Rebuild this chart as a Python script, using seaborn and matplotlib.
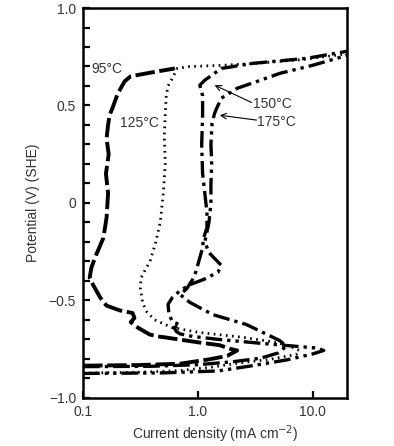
import matplotlib
matplotlib.use("Agg")
import matplotlib.pyplot as plt
import seaborn as sns
import pandas as pd
from matplotlib.ticker import FixedLocator, NullLocator, MultipleLocator

# ---- data (current density mA cm^-2, potential V SHE) ----
i_95 = [0.1, 0.3, 0.7, 1.27, 1.8, 2.2, 1.9, 1.55, 1.0, 0.52, 0.45, 0.38, 0.3, 0.26, 0.28, 0.27,
        0.21, 0.16, 0.141, 0.122, 0.114, 0.118, 0.13, 0.15, 0.16, 0.165, 0.158, 0.167, 0.16,
        0.165, 0.17, 0.18, 0.2, 0.23, 0.26, 0.4, 0.63]
E_95 = [-0.835, -0.832, -0.825, -0.802, -0.785, -0.757, -0.748, -0.73, -0.715, -0.69, -0.685,
        -0.675, -0.64, -0.612, -0.59, -0.565, -0.552, -0.527, -0.486, -0.42, -0.384, -0.332,
        -0.266, -0.18, -0.077, 0.05, 0.15, 0.25, 0.33, 0.4, 0.45, 0.486, 0.56, 0.624, 0.65,
        0.67, 0.69]

i_125 = [0.1, 0.3, 0.7, 1.27, 2.5, 4.2, 7.2, 7.7, 6.7, 4.9, 2.5, 1.04, 0.6, 0.42, 0.36, 0.33,
         0.315, 0.32, 0.35, 0.383, 0.43, 0.47, 0.5, 0.52, 0.51, 0.52, 0.53, 0.55, 0.6, 0.66,
         0.85, 1.5, 3.0, 8.0, 20.0]
E_125 = [-0.873, -0.869, -0.86, -0.844, -0.818, -0.803, -0.777, -0.757, -0.742, -0.716, -0.69,
         -0.665, -0.64, -0.6, -0.56, -0.512, -0.435, -0.384, -0.34, -0.3, -0.2, -0.1, 0.05,
         0.2, 0.35, 0.45, 0.55, 0.6, 0.64, 0.69, 0.70, 0.705, 0.715, 0.735, 0.765]

i_150 = [0.1, 0.4, 1.0, 2.0, 3.5, 5.0, 5.9, 5.16, 2.65, 1.35, 0.85, 0.7, 0.8, 0.93, 1.0, 1.1,
         1.12, 1.2, 1.2, 1.15, 1.1, 1.08, 1.1, 1.1, 1.04, 1.15, 1.32, 1.6, 3.0, 8.9, 20.0]
E_150 = [-0.84, -0.838, -0.83, -0.815, -0.797, -0.77, -0.735, -0.706, -0.624, -0.573, -0.51,
         -0.47, -0.44, -0.38, -0.317, -0.23, -0.18, -0.128, -0.05, 0.05, 0.15, 0.3, 0.45,
         0.55, 0.604, 0.63, 0.655, 0.69, 0.716, 0.742, 0.778]

i_175 = [0.1, 0.5, 1.5, 3.0, 6.0, 10.0, 12.5, 11.0, 7.0, 3.5, 1.5, 0.9, 0.7, 0.65, 0.62, 0.7,
         0.6, 0.56, 0.55, 0.6, 0.7, 0.85, 1.15, 1.5, 1.6, 1.4, 1.25, 1.15, 1.25, 1.3, 1.3,
         1.32, 1.3, 1.33, 1.4, 1.46, 1.6, 2.2, 3.3, 5.2, 10.0, 20.0]
E_175 = [-0.875, -0.872, -0.862, -0.835, -0.805, -0.775, -0.757, -0.745, -0.735, -0.72, -0.7,
         -0.685, -0.672, -0.66, -0.64, -0.625, -0.61, -0.57, -0.52, -0.485, -0.45, -0.42,
         -0.39, -0.355, -0.32, -0.285, -0.255, -0.2, -0.1, 0.0, 0.1, 0.2, 0.3, 0.41, 0.46,
         0.486, 0.537, 0.588, 0.624, 0.665, 0.706, 0.757]

x_ticks = [0.1, 1.0, 10.0]
x_tick_labels = ["0.1", "1.0", "10.0"]
y_ticks = [-1.0, -0.5, 0.0, 0.5, 1.0]
y_tick_labels = ["\u22121.0", "\u22120.5", "0", "0.5", "1.0"]

sns.set_style("ticks")
plt.rcParams["font.family"] = ["Liberation Sans", "DejaVu Sans"]
text_color = "#333333"

fig = plt.figure(figsize=(3.94, 4.46), dpi=100)
ax = fig.add_axes([0.211, 0.108, 0.670, 0.874])

curves = [
    (i_95, E_95, (0, (5, 1.2)), 2.8),
    (i_125, E_125, (0, (0.6, 1.6)), 2.0),
    (i_150, E_150, (0, (5, 1.5, 1, 1.5)), 2.4),
    (i_175, E_175, (0, (5, 1.5, 1, 1.5, 1, 1.5)), 2.4),
]
for xs, ys, ls, lw in curves:
    df = pd.DataFrame({"i": xs, "E": ys})
    sns.lineplot(data=df, x="i", y="E", sort=False, estimator=None, ax=ax,
                 color="black", linestyle=ls, linewidth=lw, legend=False)

ax.set_xscale("log")
ax.set_xlim(0.1, 20)
ax.set_ylim(-1.0, 1.0)
ax.xaxis.set_major_locator(FixedLocator(x_ticks))
ax.xaxis.set_minor_locator(NullLocator())
ax.set_xticklabels(x_tick_labels)
ax.yaxis.set_major_locator(FixedLocator(y_ticks))
ax.set_yticklabels(y_tick_labels)
ax.yaxis.set_minor_locator(MultipleLocator(0.1))
ax.tick_params(axis="both", which="both", direction="in", length=5, width=1.6,
               color="black", labelsize=10, labelcolor=text_color, pad=5)
ax.tick_params(axis="both", which="both", top=False, right=False)

for s in ax.spines.values():
    s.set_visible(True)
    s.set_linewidth(1.8)
    s.set_color("black")

ax.set_xlabel("Current density (mA cm$^{-2}$)", fontsize=10, color=text_color, labelpad=3)
ax.set_ylabel("Potential (V) (SHE)", fontsize=10, color=text_color, labelpad=6)

ax.text(0.118, 0.685, "95\u00b0C", fontsize=10, color=text_color, va="center", ha="left")
ax.text(0.21, 0.41, "125\u00b0C", fontsize=10, color=text_color, va="center", ha="left")
ax.text(3.05, 0.506, "150\u00b0C", fontsize=10, color=text_color, va="center", ha="left")
ax.text(3.3, 0.414, "175\u00b0C", fontsize=10, color=text_color, va="center", ha="left")

ax.annotate("", xy=(1.4, 0.604), xytext=(2.95, 0.515),
            arrowprops=dict(arrowstyle="->", color="black", lw=0.8, shrinkA=0, shrinkB=0))
ax.annotate("", xy=(1.55, 0.45), xytext=(3.25, 0.425),
            arrowprops=dict(arrowstyle="->", color="black", lw=0.8, shrinkA=0, shrinkB=0))

fig.savefig("out.png", dpi=100)
